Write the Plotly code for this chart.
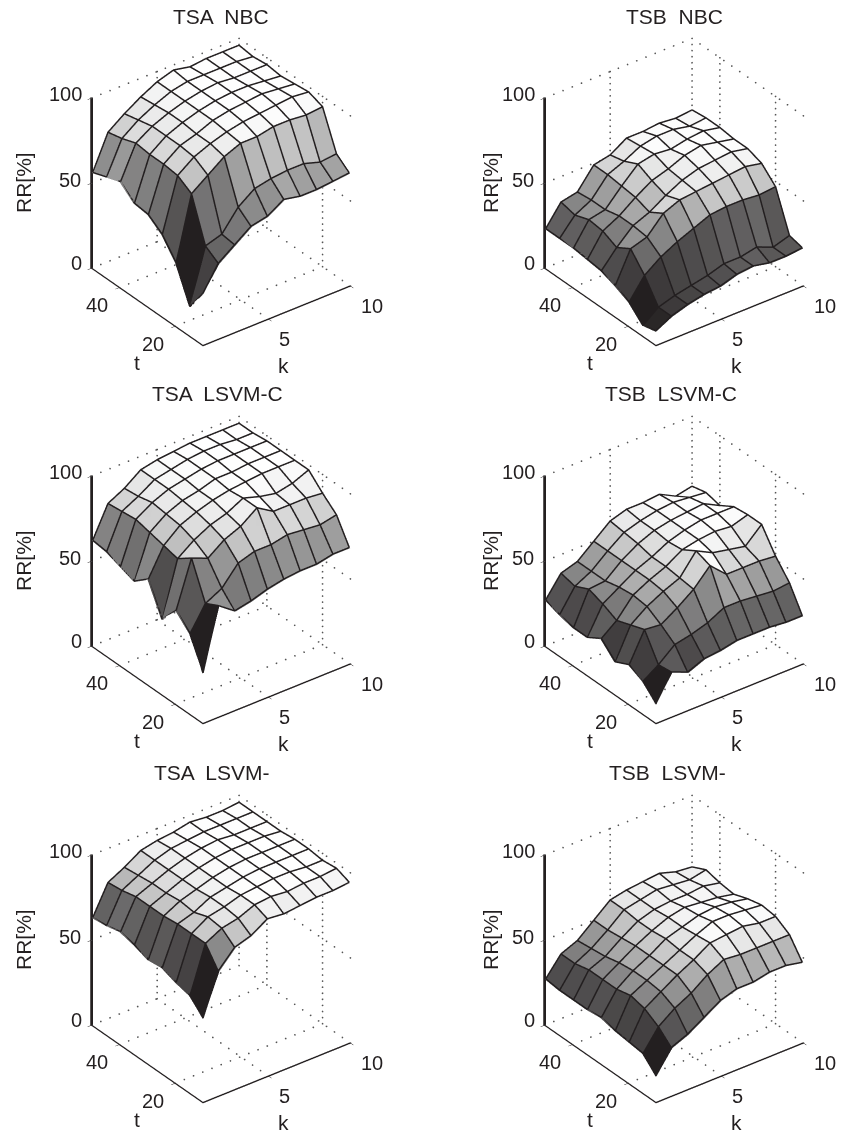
import plotly.graph_objects as go

# rows: t = 10..50 step 5; columns: k = 1..10
k_values = [1, 2, 3, 4, 5, 6, 7, 8, 9, 10]
t_values = [10, 15, 20, 25, 30, 35, 40, 45, 50]
k_ticks = [5, 10]
t_ticks = [20, 40]
z_ticks = [0, 50, 100]

tsa_nbc = [
    [30, 44, 51, 58, 60, 66, 64, 64, 65, 66],
    [17, 49, 52, 64, 71, 73, 74, 74, 71, 72],
    [37, 74, 81, 88, 92, 92, 94, 94, 93, 94],
    [48, 79, 86, 90, 93, 95, 96, 97, 98, 97],
    [54, 80, 87, 90, 94, 96, 97, 98, 97, 96],
    [55, 80, 87, 91, 94, 96, 97, 97, 96, 95],
    [62, 81, 87, 91, 94, 96, 97, 96, 96, 96],
    [59, 78, 85, 90, 94, 96, 96, 96, 96, 95],
    [56, 76, 83, 89, 94, 97, 95, 96, 96, 96],
]
tsb_nbc = [
    [8, 13, 16, 18, 19, 22, 23, 21, 21, 22],
    [6, 13, 16, 18, 20, 23, 23, 25, 21, 24],
    [14, 26, 33, 38, 42, 46, 47, 47, 46, 47],
    [18, 36, 39, 49, 53, 54, 55, 56, 57, 55],
    [21, 31, 40, 44, 50, 55, 58, 59, 60, 58],
    [22, 35, 40, 47, 53, 56, 60, 62, 60, 58],
    [23, 36, 38, 48, 57, 59, 58, 60, 61, 59],
    [23, 33, 38, 49, 53, 58, 60, 60, 58, 59],
    [23, 35, 37, 49, 51, 57, 57, 58, 57, 58],
]
tsa_lsvm_c = [
    [29, 65, 58, 60, 63, 65, 66, 66, 68, 68],
    [47, 61, 66, 77, 80, 80, 82, 81, 80, 82],
    [55, 82, 78, 85, 89, 96, 90, 90, 90, 89],
    [44, 76, 83, 88, 91, 96, 93, 91, 93, 97],
    [62, 78, 86, 90, 93, 95, 96, 97, 97, 97],
    [55, 80, 87, 91, 93, 96, 96, 97, 97, 97],
    [58, 82, 88, 92, 94, 96, 97, 97, 97, 97],
    [61, 81, 86, 92, 94, 96, 97, 97, 96, 96],
    [62, 80, 85, 92, 94, 95, 96, 96, 96, 96],
]
tsb_lsvm_c = [
    [11, 26, 22, 26, 27, 29, 29, 29, 28, 28],
    [19, 25, 33, 35, 38, 43, 43, 42, 41, 42],
    [23, 40, 39, 45, 52, 62, 53, 53, 53, 52],
    [19, 37, 44, 49, 53, 65, 60, 58, 56, 65],
    [27, 34, 45, 50, 54, 60, 62, 63, 62, 65],
    [22, 38, 44, 50, 54, 59, 62, 64, 64, 64],
    [22, 41, 42, 50, 56, 60, 62, 63, 64, 59],
    [24, 37, 42, 50, 57, 60, 62, 63, 62, 61],
    [27, 39, 42, 50, 58, 61, 61, 62, 57, 59],
]
tsa_lsvm = [
    [49, 73, 83, 86, 92, 91, 92, 93, 93, 94],
    [57, 84, 89, 91, 95, 96, 95, 96, 96, 97],
    [59, 84, 90, 92, 95, 96, 97, 97, 96, 96],
    [62, 84, 87, 92, 94, 96, 97, 97, 97, 97],
    [61, 83, 88, 91, 94, 96, 97, 97, 97, 97],
    [64, 83, 87, 91, 94, 96, 97, 97, 97, 96],
    [66, 83, 87, 91, 94, 96, 97, 96, 96, 96],
    [64, 81, 86, 91, 94, 95, 96, 96, 96, 96],
    [63, 80, 85, 91, 93, 94, 96, 95, 95, 96],
]
tsb_lsvm = [
    [15, 28, 32, 38, 44, 47, 47, 49, 49, 47],
    [23, 35, 42, 47, 54, 59, 58, 58, 58, 58],
    [24, 40, 46, 52, 57, 63, 64, 65, 63, 63],
    [25, 42, 47, 52, 57, 62, 66, 66, 65, 64],
    [27, 40, 47, 52, 58, 61, 64, 65, 64, 62],
    [26, 40, 46, 52, 57, 61, 63, 62, 61, 59],
    [26, 40, 44, 51, 57, 60, 61, 61, 62, 60],
    [26, 38, 43, 50, 58, 60, 62, 61, 60, 62],
    [27, 38, 42, 50, 58, 60, 61, 62, 59, 58],
]

titles = ["TSA  NBC", "TSB  NBC", "TSA  LSVM-C", "TSB  LSVM-C", "TSA  LSVM-", "TSB  LSVM-"]
grids = [tsa_nbc, tsb_nbc, tsa_lsvm_c, tsb_lsvm_c, tsa_lsvm, tsb_lsvm]
title_x = [221, 674, 217, 671, 212, 667]
title_y = [17, 17, 393, 393, 772, 772]

W, H = 843, 1132
col_dx = [0, 453]
row_dy = [0, 378, 757]
CX, CY = 221, 192
HALF_W, HALF_H = 168, 180
FONT = "Liberation Sans, Arial, sans-serif"
INK = "#231f20"
SCALE = [[0, "#231f20"], [0.5, "#8a8a8a"], [0.8, "#dedede"], [0.95, "#fcfcfc"], [1, "#ffffff"]]
EYE_R = 1.85
EYE = dict(x=-0.514 * EYE_R, y=-0.674 * EYE_R, z=0.53 * EYE_R)
ASPECT = dict(x=1.03, y=1.02, z=1.115)
LIFT = 0.015   # edge lines sit this far toward the viewer, so they clear the mesh


def add_panel(fig, n, z):
    row, col = n // 2, n % 2
    name = "scene" if n == 0 else f"scene{n + 1}"
    cx = CX + col_dx[col]
    cy = CY + row_dy[row]
    nr, nc = len(t_values), len(k_values)
    k0, k1, t0, t1 = k_values[0], k_values[-1], t_values[0], t_values[-1]
    z0, z1 = z_ticks[0], z_ticks[-1]

    xs, ys, zs, ii, jj, kk, inten = [], [], [], [], [], [], []
    for r in range(nr):
        for c in range(nc):
            xs.append(k_values[c])
            ys.append(t_values[r])
            zs.append(z[r][c])
    for r in range(nr - 1):
        for c in range(nc - 1):
            a = r * nc + c
            b, d, e = a + 1, a + nc, a + nc + 1
            ii += [a, a]
            jj += [b, e]
            kk += [e, d]
            inten += [z[r][c], z[r][c]]
    flat = [v for line in z for v in line]
    fig.add_trace(go.Mesh3d(
        x=xs, y=ys, z=zs, i=ii, j=jj, k=kk, intensity=inten, intensitymode="cell",
        colorscale=SCALE, cmin=min(flat), cmax=max(flat), showscale=False,
        flatshading=True, hoverinfo="skip",
        lighting=dict(ambient=1, diffuse=0, specular=0, roughness=1, fresnel=0),
        scene=name))

    # surface mesh edges
    off_k = 0.514 * LIFT * (k1 - k0) / ASPECT["x"]
    off_t = 0.674 * LIFT * (t1 - t0) / ASPECT["y"]
    off_z = 0.53 * LIFT * (z1 - z0) / ASPECT["z"]
    lx, ly, lz = [], [], []

    def vertex(r, c):
        lx.append(max(k_values[c] - off_k, k0))
        ly.append(max(t_values[r] - off_t, t0))
        lz.append(z[r][c] + off_z)

    for r in range(nr):
        for c in range(nc):
            vertex(r, c)
        lx.append(None); ly.append(None); lz.append(None)
    for c in range(nc):
        for r in range(nr):
            vertex(r, c)
        lx.append(None); ly.append(None); lz.append(None)
    fig.add_trace(go.Scatter3d(x=lx, y=ly, z=lz, mode="lines", showlegend=False,
                               line=dict(color=INK, width=3), hoverinfo="skip", scene=name))

    # dotted grid on floor and back walls, sampled along each grid line
    gx, gy, gz = [], [], []

    def seg(a, b, count):
        for m in range(count + 1):
            f = m / count
            gx.append(a[0] + (b[0] - a[0]) * f)
            gy.append(a[1] + (b[1] - a[1]) * f)
            gz.append(a[2] + (b[2] - a[2]) * f)

    for v in k_ticks:
        seg((v, t0, z0), (v, t1, z0), 14)
        seg((v, t1, z0), (v, t1, z1), 28)
    for v in t_ticks:
        seg((k0, v, z0), (k1, v, z0), 16)
        seg((k1, v, z0), (k1, v, z1), 28)
    for v in z_ticks:
        seg((k0, t1, v), (k1, t1, v), 16)
        seg((k1, t1, v), (k1, t0, v), 14)
    fig.add_trace(go.Scatter3d(x=gx, y=gy, z=gz, mode="markers", showlegend=False,
                               marker=dict(color="#555555", size=1, line=dict(width=0)),
                               hoverinfo="skip", scene=name))

    ax = dict(showbackground=False, showgrid=False, zeroline=False, showspikes=False,
              title=dict(text=""), showline=True, linecolor=INK, linewidth=3,
              ticks="inside", ticklen=5, tickcolor=INK, tickwidth=1, showticklabels=False)
    fig.update_layout({name: dict(
        domain=dict(x=[(cx - HALF_W) / W, (cx + HALF_W) / W],
                    y=[1 - (cy + HALF_H) / H, 1 - (cy - HALF_H) / H]),
        aspectmode="manual", aspectratio=ASPECT,
        camera=dict(projection=dict(type="orthographic"), eye=EYE,
                    up=dict(x=0, y=0, z=1), center=dict(x=0, y=0, z=0)),
        xaxis=dict(ax, range=[k0, k1], tickvals=k_ticks),
        yaxis=dict(ax, range=[t0, t1], tickvals=t_ticks),
        zaxis=dict(ax, range=[z0, z1], tickvals=z_ticks, linewidth=6),
    )})

    dx, dy = col_dx[col], row_dy[row]

    def note(text, px, py, angle=0, size=21):
        fig.add_annotation(text=text, x=px / W, y=1 - py / H, xref="paper", yref="paper",
                           showarrow=False, textangle=angle, xanchor="center", yanchor="middle",
                           font=dict(family=FONT, size=size, color=INK))
    note(titles[n], title_x[n], title_y[n])
    note("RR[%]", 23 + dx + (0 if col == 0 else 14), 183 + dy, -90)
    note("k", 283 + dx, 365 + dy)
    note("t", 137 + dx, 362 + dy)
    for label, px, py in [("100", 65, 94), ("50", 70, 180), ("0", 76, 263), ("40", 97, 305),
                          ("20", 153, 344), ("5", 284, 339), ("10", 372, 306)]:
        note(label, px + dx, py + dy, size=20)


fig = go.Figure()
for n, z in enumerate(grids):
    add_panel(fig, n, z)
fig.update_layout(width=W, height=H, margin=dict(l=0, r=0, t=0, b=0),
                  paper_bgcolor="white", showlegend=False)
fig.write_html("out.html", config=dict(displayModeBar=False),
               post_script="document.body.style.margin='0';")
